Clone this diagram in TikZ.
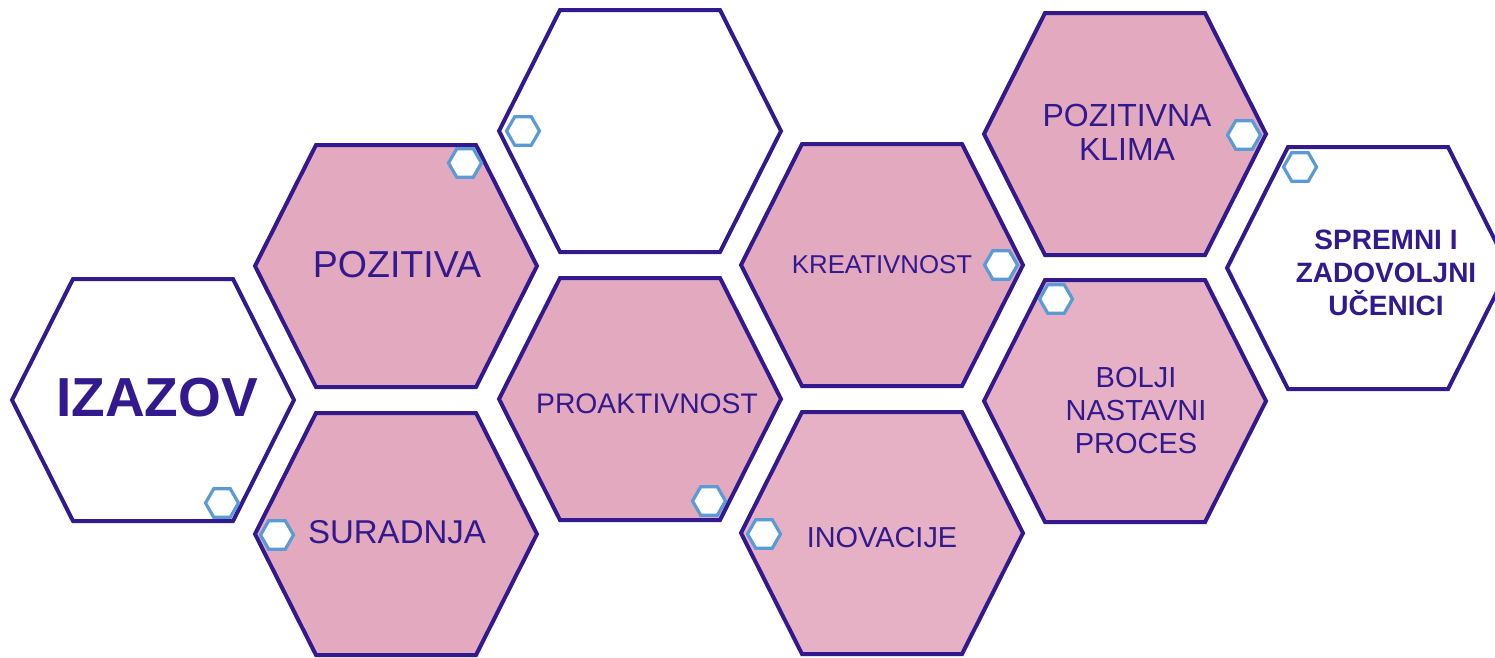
\documentclass[tikz,border=0pt]{standalone}
\usepackage{fontspec}
\setmainfont{Liberation Sans}
\usetikzlibrary{shapes.geometric}

\definecolor{cellline}{HTML}{33198E}
\definecolor{cellpink}{HTML}{E2A9BF}
\definecolor{cellrose}{HTML}{E6B1C5}
\definecolor{beadblue}{HTML}{5B9BD5}

\tikzset{
  cell/.pic={\path[pic actions] (-141,0) -- (-80,-121) -- (80,-121) -- (141,0) -- (80,121) -- (-80,121) -- cycle;},
  cellbox/.style={draw=cellline, line width=4pt},
  word/.style={text=cellline, align=center, inner sep=0pt},
  bead/.style={regular polygon, regular polygon sides=6, minimum size=33pt, inner sep=0pt,
    draw=beadblue, line width=3.2pt, fill=white},
}

\begin{document}
\begin{tikzpicture}[x=1pt,y=-1pt]
  \useasboundingbox (0,0) rectangle (1495,657);

  % big cells
  \pic[cellbox, fill=white]    at (153,400)  {cell};
  \pic[cellbox, fill=cellpink] at (396,266)  {cell};
  \pic[cellbox, fill=cellpink] at (396,534)  {cell};
  \pic[cellbox, fill=white]    at (640,131)  {cell};
  \pic[cellbox, fill=cellpink] at (640,399)  {cell};
  \pic[cellbox, fill=cellpink] at (882,265)  {cell};
  \pic[cellbox, fill=cellrose] at (882,533)  {cell};
  \pic[cellbox, fill=cellpink] at (1125,134) {cell};
  \pic[cellbox, fill=cellrose] at (1125,401) {cell};
  \pic[cellbox, fill=white]    at (1368,268) {cell};

  % labels
  \node[word, font=\fontsize{55}{60}\selectfont\bfseries] (izazov) at (157,398) {IZAZOV};
  \node[word, font=\fontsize{37.5}{40}\selectfont] (pozitiva) at (397,265) {POZITIVA};
  \node[word, font=\fontsize{33}{38}\selectfont] (suradnja) at (397,532) {SURADNJA};
  \node[word, font=\fontsize{28.3}{32}\selectfont] (proaktivnost) at (647,404) {PROAKTIVNOST};
  \node[word, font=\fontsize{25.8}{30}\selectfont] (kreativnost) at (882,265) {KREATIVNOST};
  \node[word, font=\fontsize{28.9}{32}\selectfont] (inovacije) at (882,538) {INOVACIJE};
  \node[word, font=\fontsize{32}{34}\selectfont] (klima) at (1127,132) {POZITIVNA\\KLIMA};
  \node[word, font=\fontsize{29}{33}\selectfont] (proces) at (1136,411) {BOLJI\\NASTAVNI\\PROCES};
  \node[word, font=\fontsize{28}{33}\selectfont\bfseries] (ucenici) at (1386,273) {SPREMNI I\\ZADOVOLJNI\\UČENICI};

  % small hexagons
  \node[bead] (b1)  at (222,503)  {};
  \node[bead] (b2)  at (465,163)  {};
  \node[bead] (b3)  at (523,131)  {};
  \node[bead] (b4)  at (277,535)  {};
  \node[bead] (b5)  at (709,501)  {};
  \node[bead] (b6)  at (1001,265) {};
  \node[bead] (b7)  at (764,534)  {};
  \node[bead] (b8)  at (1244,135) {};
  \node[bead] (b9)  at (1056,299) {};
  \node[bead] (b10) at (1300,167) {};
\end{tikzpicture}
\end{document}
